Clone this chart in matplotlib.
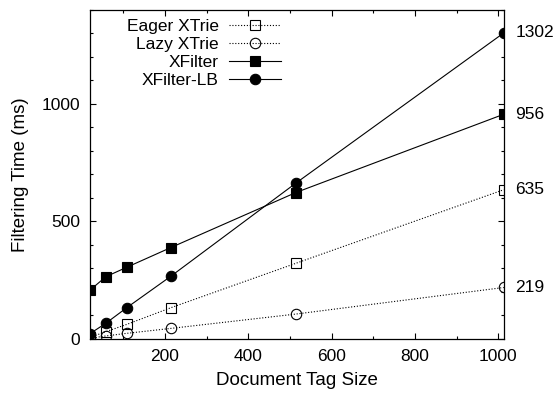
import matplotlib
matplotlib.use("Agg")
import matplotlib.pyplot as plt
from matplotlib.ticker import MultipleLocator

plt.rcParams["font.family"] = ["Liberation Sans", "DejaVu Sans"]

# ── data ──────────────────────────────────────────────────────────────────────
tag_size = [20, 58, 108, 214, 514, 1013]

eager_xtrie = [7, 31, 62, 133, 322, 635]
lazy_xtrie  = [3, 13, 24, 45, 106, 219]
xfilter     = [208, 265, 305, 389, 623, 956]
xfilter_lb  = [23, 67, 133, 267, 663, 1302]

series = [
    ("Eager XTrie", eager_xtrie, "s", "none", (0, (1, 1.6))),
    ("Lazy XTrie",  lazy_xtrie,  "o", "none", (0, (1, 1.6))),
    ("XFilter",     xfilter,     "s", "black", "-"),
    ("XFilter-LB",  xfilter_lb,  "o", "black", "-"),
]

# ── figure ────────────────────────────────────────────────────────────────────
fig = plt.figure(figsize=(5.56, 3.96), dpi=100)
ax = fig.add_axes([0.162, 0.144, 0.744, 0.831])

for name, vals, mk, face, ls in series:
    ax.plot(tag_size, vals, linestyle=ls, color="black", linewidth=0.8,
            marker=mk, markersize=7.5, markerfacecolor=face,
            markeredgecolor="black", markeredgewidth=0.8, label=name)
    # final value printed just outside the right axis
    ax.annotate(f"{vals[-1]}", xy=(tag_size[-1], vals[-1]),
                xytext=(8.5, 0), textcoords="offset points",
                fontsize=12.5, va="center", ha="left", annotation_clip=False)

ax.set_xlim(tag_size[0], tag_size[-1])
ax.set_ylim(0, 1400)
ax.xaxis.set_major_locator(MultipleLocator(200))
ax.xaxis.set_minor_locator(MultipleLocator(100))
ax.yaxis.set_major_locator(MultipleLocator(500))
ax.yaxis.set_minor_locator(MultipleLocator(100))
ax.tick_params(which="both", direction="in", top=True, right=True,
               labelsize=12.5, width=0.8, pad=7)
ax.tick_params(which="major", length=4)
ax.tick_params(which="minor", length=2)
for sp in ax.spines.values():
    sp.set_linewidth(0.9)

ax.set_xlabel("Document Tag Size", fontsize=13.5, labelpad=6)
ax.set_ylabel("Filtering Time (ms)", fontsize=13.5, labelpad=9)

ax.legend(loc="upper right", bbox_to_anchor=(0.487, 1.005), frameon=False,
          markerfirst=False, fontsize=12.5, handlelength=3.0,
          labelspacing=0.17, handletextpad=0.6, borderpad=0.1)

fig.savefig("out.png", dpi=100)
